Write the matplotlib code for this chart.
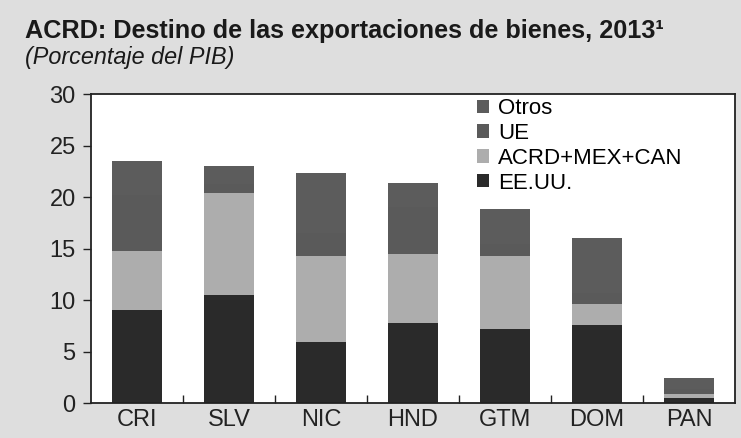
import numpy as np
import matplotlib.pyplot as plt

plt.rcParams['font.family'] = ['Liberation Sans', 'DejaVu Sans']

paises = ['CRI', 'SLV', 'NIC', 'HND', 'GTM', 'DOM', 'PAN']
eeuu = [9.0, 10.45, 5.95, 7.75, 7.2, 7.6, 0.45]
acrd = [5.75, 9.95, 8.35, 6.75, 7.1, 2.0, 0.4]
ue = [5.5, 0.9, 2.2, 4.5, 1.1, 1.1, 0.55]
otros = [3.25, 1.7, 5.8, 2.4, 3.4, 5.3, 1.0]

series = [('EE.UU.', eeuu, '#2a2a2a'),
          ('ACRD+MEX+CAN', acrd, '#adadad'),
          ('UE', ue, '#5a5a5a'),
          ('Otros', otros, '#5c5c5c')]

fig = plt.figure(figsize=(7.41, 4.38), dpi=100, facecolor='#dedede')
ax = fig.add_axes([0.1228, 0.0799, 0.8692, 0.7051])
ax.set_facecolor('white')

x = np.arange(len(paises))
bottom = np.zeros(len(paises))
handles = []
for nombre, vals, color in series:
    b = ax.bar(x, vals, width=0.54, bottom=bottom, color=color, label=nombre)
    bottom += np.array(vals)
    handles.append(b)

ax.set_xlim(-0.5, len(paises) - 0.5)
ax.set_ylim(0, 30)
ax.set_yticks(range(0, 31, 5))
ax.tick_params(axis='y', labelsize=17, length=6, width=1, colors='#222222', pad=5)
ax.set_xticks(x)
ax.set_xticklabels(paises)
ax.tick_params(axis='x', labelsize=17, length=0, pad=4, colors='#222222')
ax.set_xticks(x[:-1] + 0.5, minor=True)
ax.tick_params(axis='x', which='minor', direction='in', length=6, width=1, color='#222222')
for s in ax.spines.values():
    s.set_color('#222222')
    s.set_linewidth(1.3)

leg = ax.legend(handles[::-1], [s[0] for s in series[::-1]], loc='upper left',
                bbox_to_anchor=(0.579, 1.03), frameon=False, fontsize=16,
                handlelength=0.55, handleheight=0.55, handletextpad=0.4,
                labelspacing=0.17, borderaxespad=0.2)

fig.text(0.034, 0.93, 'ACRD: Destino de las exportaciones de bienes, 2013\u00b9',
         fontsize=18.2, fontweight='bold', color='#1a1a1a', va='center')
fig.text(0.034, 0.868, '(Porcentaje del PIB)', fontsize=16.8, style='italic',
         color='#1a1a1a', va='center')

fig.savefig('out.png', dpi=100, facecolor=fig.get_facecolor())
